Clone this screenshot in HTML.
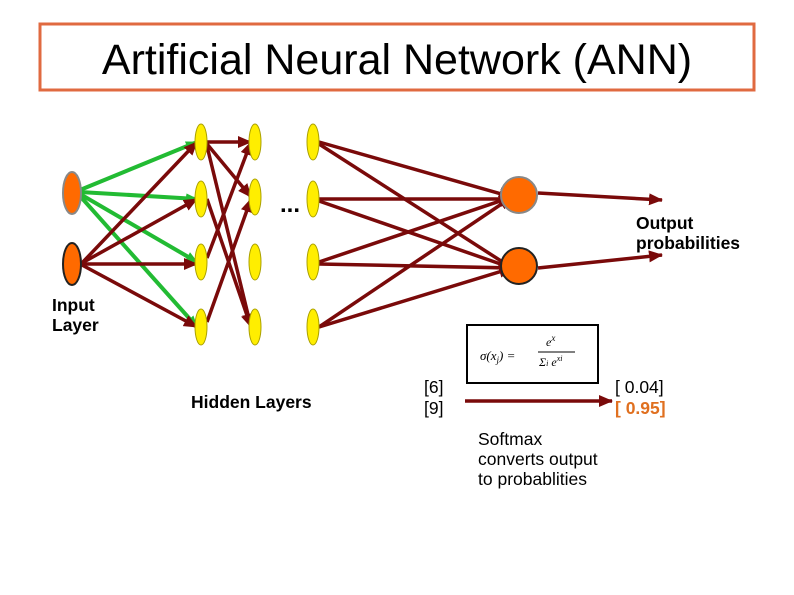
<!DOCTYPE html>
<html><head><style>
body{margin:0;width:794px;height:595px;background:#fff;overflow:hidden;font-family:"Liberation Sans",sans-serif}
</style></head><body>
<svg width="794" height="595" xmlns="http://www.w3.org/2000/svg" style="position:absolute;left:0;top:0">
<defs>
<marker id="rb" markerWidth="14" markerHeight="12" refX="13" refY="6" orient="auto" markerUnits="userSpaceOnUse"><path d="M0,0 L14,6 L0,12z" fill="#7a0a0a"/></marker>
<marker id="g" markerWidth="12" markerHeight="10" refX="11" refY="5" orient="auto" markerUnits="userSpaceOnUse"><path d="M0,0 L12,5 L0,10z" fill="#22bb33"/></marker>
</defs>
<rect x="40" y="24" width="714" height="66" fill="#fff" stroke="#e06a40" stroke-width="3"/>
<text x="397" y="74" font-size="43" text-anchor="middle" fill="#000">Artificial Neural Network (ANN)</text>
<g stroke="#22bb33" stroke-width="4" marker-end="url(#g)">
<line x1="80" y1="190" x2="197" y2="142"/>
<line x1="80" y1="192" x2="197" y2="199"/>
<line x1="80" y1="194" x2="197" y2="262"/>
<line x1="80" y1="196" x2="197" y2="327"/>
</g>
<g stroke="#7a0a0a" stroke-width="3.5" marker-end="url(#rb)">
<line x1="82" y1="263" x2="197" y2="142"/>
<line x1="82" y1="263" x2="197" y2="199"/>
<line x1="82" y1="264" x2="197" y2="264"/>
<line x1="82" y1="265" x2="197" y2="327"/>
<line x1="207" y1="142" x2="251" y2="142"/>
<line x1="207" y1="144" x2="251" y2="197"/>
<line x1="207" y1="146" x2="251" y2="327"/>
<line x1="207" y1="199" x2="251" y2="327"/>
<line x1="207" y1="258" x2="251" y2="142"/>
<line x1="207" y1="322" x2="251" y2="199"/>
<line x1="319" y1="142" x2="512" y2="197"/>
<line x1="319" y1="144" x2="512" y2="268"/>
<line x1="319" y1="199" x2="512" y2="199"/>
<line x1="319" y1="201" x2="512" y2="268"/>
<line x1="319" y1="262" x2="512" y2="197"/>
<line x1="319" y1="264" x2="512" y2="268"/>
<line x1="319" y1="327" x2="512" y2="197"/>
<line x1="319" y1="327" x2="512" y2="268"/>
<line x1="538" y1="193" x2="662" y2="200"/>
<line x1="538" y1="268" x2="662" y2="255"/>
<line x1="465" y1="401" x2="612" y2="401"/>
</g>
<ellipse cx="72" cy="193" rx="9" ry="21" fill="#ff6a00" stroke="#888" stroke-width="2"/>
<ellipse cx="72" cy="264" rx="9" ry="21" fill="#ff6a00" stroke="#222" stroke-width="2"/>
<g fill="#ffee00" stroke="#aaa000" stroke-width="1">
<ellipse cx="201" cy="142" rx="6" ry="18"/><ellipse cx="201" cy="199" rx="6" ry="18"/><ellipse cx="201" cy="262" rx="6" ry="18"/><ellipse cx="201" cy="327" rx="6" ry="18"/>
<ellipse cx="255" cy="142" rx="6" ry="18"/><ellipse cx="255" cy="197" rx="6" ry="18"/><ellipse cx="255" cy="262" rx="6" ry="18"/><ellipse cx="255" cy="327" rx="6" ry="18"/>
<ellipse cx="313" cy="142" rx="6" ry="18"/><ellipse cx="313" cy="199" rx="6" ry="18"/><ellipse cx="313" cy="262" rx="6" ry="18"/><ellipse cx="313" cy="327" rx="6" ry="18"/>
</g>
<circle cx="519" cy="195" r="18" fill="#ff6a00" stroke="#888" stroke-width="2"/>
<circle cx="519" cy="266" r="18" fill="#ff6a00" stroke="#222" stroke-width="2"/>
<text x="280" y="212" font-size="24" font-weight="bold">...</text>
<g font-size="17.5" font-weight="bold"><text x="636" y="229">Output</text><text x="636" y="249">probabilities</text>
<text x="52" y="311">Input</text><text x="52" y="331">Layer</text>
<text x="191" y="408">Hidden Layers</text></g>
<rect x="467" y="325" width="131" height="58" fill="#fff" stroke="#000" stroke-width="2"/>
<text x="480" y="360" font-family="Liberation Serif" font-size="13" font-style="italic">σ(x<tspan font-size="9" dy="3">j</tspan><tspan dy="-3">) =</tspan></text>
<text x="546" y="346" font-family="Liberation Serif" font-size="12" font-style="italic">e<tspan font-size="9" dy="-5">x</tspan></text>
<line x1="538" y1="352" x2="575" y2="352" stroke="#000" stroke-width="1"/>
<text x="539" y="366" font-family="Liberation Serif" font-size="12" font-style="italic">Σ<tspan font-size="8">i</tspan> e<tspan font-size="8" dy="-5">xi</tspan></text>
<g font-size="17.5"><text x="424" y="393">[6]</text><text x="424" y="414">[9]</text>
<text x="615" y="393">[ 0.04]</text><text x="615" y="414" fill="#e07020" font-weight="bold">[ 0.95]</text>
<text x="478" y="445">Softmax</text><text x="478" y="465">converts output</text><text x="478" y="485">to probablities</text></g>
</svg>
</body></html>
